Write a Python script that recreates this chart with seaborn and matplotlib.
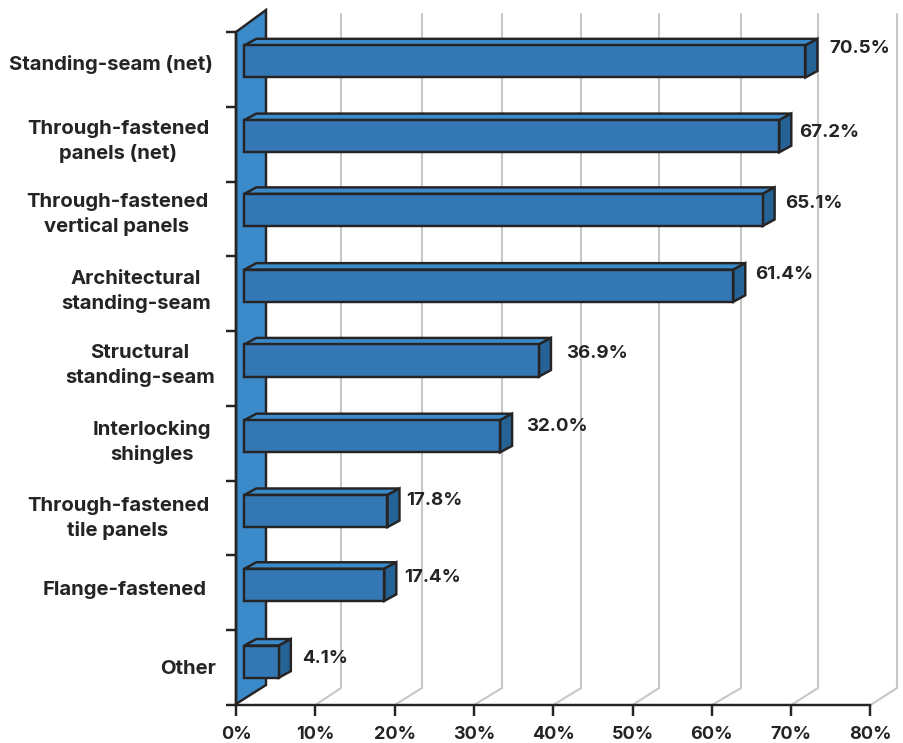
import numpy as np
import pandas as pd
import seaborn as sns
import matplotlib
matplotlib.use("Agg")
import matplotlib.pyplot as plt
from matplotlib.patches import Polygon
from matplotlib.transforms import Affine2D

categories = ["Standing-seam (net)", "Through-fastened\npanels (net)",
              "Through-fastened\nvertical panels", "Architectural\nstanding-seam",
              "Structural\nstanding-seam", "Interlocking\nshingles",
              "Through-fastened\ntile panels", "Flange-fastened", "Other"]
values = [70.5, 67.2, 65.1, 61.4, 36.9, 32.0, 17.8, 17.4, 4.1]
x_ticks = [0, 10, 20, 30, 40, 50, 60, 70, 80]

# label placement, in pixels
label_cx = [111, 118, 117, 136, 140, 152, 118, 125, 188]
label_dy = [-5, -3, -4, -2, -3, -1, 0, -3, 1]
value_dx = [34, 30, 33, 32, 37, 36, 29, 30, 34]
value_dy = [21, 12, 15, 19, 15, 17, 18, 15, 9]
bar_lift = [8, 8, 9, 8, 8, 7, 7, 8, 6]
grid_top_x = [341, 422, 502, 581, 659, 741, 818, 897]

W, H = 904, 743
INK = "#262324"
WALL = "#3b8bcb"
FRONT = "#3378b4"
SIDE = "#256296"
GRID = "#c5c7c9"
LW = 1.75
FONT = ["Inter", "DejaVu Sans"]

sns.set_style("white")
plt.rcParams["font.family"] = FONT
plt.rcParams["font.weight"] = "bold"

fig = plt.figure(figsize=(W / 100, H / 100), dpi=100)
ax = fig.add_axes([236 / W, 1 - 705 / H, (870.5 - 236) / W, (705 - 32) / H])
df = pd.DataFrame({"category": categories, "value": values})
sns.barplot(data=df, x="value", y="category", orient="h", color=FRONT, saturation=1,
            width=0.43, edgecolor=INK, linewidth=LW, ax=ax, zorder=4)
ax.set_xlim(0, 80)
ax.set_ylim(8.5, -0.5)
ax.set_xlabel("")
ax.set_ylabel("")
bars = list(ax.patches)

pix = Affine2D().scale(1, -1).translate(0, H)   # image pixels to display


def to_px(x, y):
    dx, dy = ax.transData.transform((x, y))
    return dx, H - dy


# back wall
ax.add_patch(Polygon([(236, 32), (266, 10), (266, 685), (236, 704)], closed=True,
                     transform=pix, facecolor=WALL, edgecolor=INK, linewidth=LW,
                     clip_on=False, zorder=2, joinstyle="miter"))

# floor and back gridlines
for t, top_x in zip(x_ticks[1:], grid_top_x):
    x0, y0 = to_px(t, 8.5)
    ax.plot([x0, top_x, top_x], [y0, 688, 14], transform=pix, color=GRID, lw=1.5,
            clip_on=False, zorder=1, solid_joinstyle="miter")

# bars: move the front face forward and add depth faces
DX, DY = 12, -6.5
for i, (patch, v) in enumerate(zip(bars, values)):
    lift = bar_lift[i]
    patch.set_x(1.05)
    patch.set_width(v + 0.25)
    patch.set_transform(ax.transData + Affine2D().translate(0, lift))
    patch.set_joinstyle("miter")
    (xl, yt) = to_px(1.05, i - 0.215)
    (xr, yb) = to_px(v + 1.3, i + 0.215)
    yt -= lift
    yb -= lift
    ax.add_patch(Polygon([(xl, yt), (xl + DX, yt + DY), (xr + DX, yt + DY), (xr, yt)], closed=True,
                         transform=pix, facecolor=WALL, edgecolor=INK, linewidth=LW,
                         clip_on=False, zorder=3, joinstyle="miter"))
    ax.add_patch(Polygon([(xr, yt), (xr + DX, yt + DY), (xr + DX, yb + DY), (xr, yb)], closed=True,
                         transform=pix, facecolor=SIDE, edgecolor=INK, linewidth=LW,
                         clip_on=False, zorder=3, joinstyle="miter"))
    ax.annotate(f"{v:.1f}%", xy=(v, i), xytext=(value_dx[i], value_dy[i]),
                textcoords="offset pixels", ha="left", va="center",
                fontsize=13.5, fontweight="bold", color=INK, zorder=6)

# axes
for s in ["top", "right"]:
    ax.spines[s].set_visible(False)
for s in ["left", "bottom"]:
    ax.spines[s].set_color(INK)
    ax.spines[s].set_linewidth(LW)
    ax.spines[s].set_zorder(5)
ax.set_xticks(x_ticks, [f"{t}%" for t in x_ticks])
ax.tick_params(axis="x", length=8, width=LW, color=INK, labelcolor=INK, labelsize=13, pad=7, bottom=True)
ax.set_yticks(np.arange(-0.5, 9, 1), minor=True)
ax.tick_params(axis="y", which="minor", length=7.2, width=LW, color=INK, left=True)
ax.tick_params(axis="y", which="major", length=0, pad=0, labelsize=14.6, labelcolor=INK)
for lab, cx, dy in zip(ax.get_yticklabels(), label_cx, label_dy):
    lab.set_ha("center")
    lab.set_va("center")
    lab.set_multialignment("center")
    lab.set_linespacing(1.4)
    lab.set_fontweight("bold")
    lab.set_x((cx - 236) / (870.5 - 236))
    lab.set_transform(lab.get_transform() + Affine2D().translate(0, -dy))

fig.savefig("out.png", dpi=100, facecolor="white")
